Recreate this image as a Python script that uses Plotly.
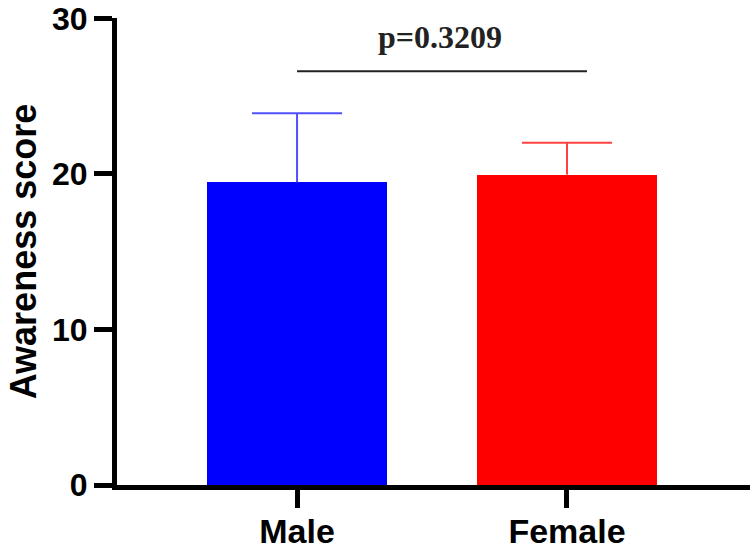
import plotly.graph_objects as go

categories = ["Male", "Female"]
means = [19.45, 19.95]
sd_upper = [4.45, 2.05]
bar_colors = ["#0000FF", "#FF0000"]
err_colors = ["#5050FF", "#FF4040"]
y_ticks = [0, 10, 20, 30]
p_text = "p=0.3209"

fig = go.Figure()
for i, cat in enumerate(categories):
    fig.add_trace(go.Bar(
        x=[i], y=[means[i]], width=0.667,
        marker=dict(color=bar_colors[i], line=dict(width=0)),
        showlegend=False,
    ))

cap = 0.167
for i, cat in enumerate(categories):
    top = means[i] + sd_upper[i]
    fig.add_trace(go.Scatter(
        x=[i, i, None, i - cap, i + cap],
        y=[means[i], top, None, top, top],
        mode="lines", line=dict(color=err_colors[i], width=2),
        showlegend=False, hoverinfo="skip",
    ))

fig.add_shape(type="line", xref="x", yref="y", x0=0, x1=1.074, y0=26.6, y1=26.6,
              line=dict(color="#222222", width=2))
fig.add_annotation(x=0.53, y=28.8, xref="x", yref="y", text="<b>" + p_text + "</b>",
                   showarrow=False, font=dict(family="Liberation Serif", size=32, color="#222222"))

fig.update_layout(
    width=750, height=553,
    margin=dict(l=117, r=0, t=18, b=68),
    plot_bgcolor="white", paper_bgcolor="white",
    bargap=0,
    xaxis=dict(range=[-0.667, 1.678], tickvals=[0, 1], ticktext=categories,
               showline=True, linecolor="black", linewidth=5, ticks="outside",
               ticklen=18, tickwidth=5, tickcolor="black", showgrid=False, zeroline=False,
               ticklabelstandoff=-6,
               tickfont=dict(family="Liberation Sans", size=34, color="black", weight="bold")),
    yaxis=dict(range=[0, 30.02], tickvals=y_ticks, showline=True, linecolor="black", linewidth=5,
               ticks="outside", ticklen=18, tickwidth=5, tickcolor="black",
               showgrid=False, zeroline=False,
               tickfont=dict(family="Liberation Sans", size=32, color="black", weight="bold"),
               title=dict(text="<b>Awareness score</b>", standoff=6,
                          font=dict(family="Liberation Sans", size=36, color="black"))),
)

fig.write_html("out.html")
